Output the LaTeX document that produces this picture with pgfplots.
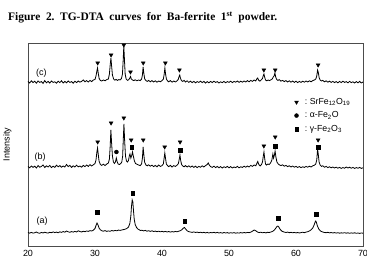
\documentclass[border=0pt]{standalone}
\usepackage{fontspec}
\setmainfont{Liberation Serif}
\setsansfont{Liberation Sans}
\usepackage{pgfplots}
\pgfplotsset{compat=1.18}
\begin{document}
\frenchspacing
\begin{tikzpicture}[x=1bp,y=1bp]
\useasboundingbox (0,0) rectangle (367,264);
\node[anchor=base west, inner sep=0pt, font=\fontsize{11.5}{13}\selectfont\bfseries] at (8,243.5) {\makebox[269bp][s]{Figure 2. TG-DTA curves for Ba-ferrite 1\textsuperscript{st} powder.}};
\begin{axis}[
  at={(28bp,18bp)}, anchor=south west,
  scale only axis, width=335bp, height=203bp,
  xmin=20, xmax=70, ymin=0, ymax=203,
  xtick={20,30,40,50,60,70}, ytick=\empty,
  major tick length=0pt,
  /pgf/number format/assume math mode=true,
  tick label style={font=\sffamily\fontsize{9}{10}\selectfont},
  xticklabel style={yshift=-1bp},
  ylabel={Intensity},
  ylabel style={at={(axis description cs:-0.062,0.5)}, anchor=center, font=\sffamily\fontsize{9}{10}\selectfont},
  axis line style={line width=0.9bp, black!70},
  clip=false,
  legend style={at={(rel axis cs:0.795,0.738)}, anchor=north west, draw=none, fill=none,
    font=\sffamily\fontsize{8.8}{10}\selectfont, row sep=1.8bp, inner sep=0pt, cells={anchor=west}},
]
% (a)
\addplot[black, line width=0.8bp, forget plot] coordinates {
(20.00,13.5)(20.25,12.8)(20.50,13.6)(20.75,12.9)(21.00,13.2)(21.25,14.0)(21.50,13.1)(21.75,12.7)(22.00,13.6)(22.25,13.0)(22.50,13.8)(22.75,13.2)(23.00,12.9)(23.25,13.7)(23.50,13.3)(23.75,14.1)(24.00,13.4)(24.25,13.9)(24.50,13.2)(24.75,14.2)(25.00,13.6)(25.25,14.5)(25.50,13.8)(25.75,15.0)(26.00,14.2)(26.25,13.7)(26.50,14.4)(26.75,13.9)(27.00,14.6)(27.25,14.0)(27.50,15.2)(27.75,14.5)(28.00,14.0)(28.25,14.8)(28.50,14.3)(28.75,15.0)(29.00,14.6)(29.25,15.4)(29.50,15.0)(29.75,15.8)(30.00,17.5)(30.15,20.5)(30.30,23.0)(30.45,21.0)(30.60,18.0)(30.80,16.2)(31.00,15.3)(31.25,14.8)(31.50,15.4)(31.75,14.6)(32.00,15.1)(32.25,14.7)(32.50,15.5)(32.75,15.0)(33.00,15.6)(33.25,15.2)(33.50,15.9)(33.75,15.6)(34.00,16.0)(34.25,16.4)(34.50,16.8)(34.75,17.5)(35.00,19.0)(35.20,22.5)(35.35,30.0)(35.45,40.0)(35.55,46.0)(35.65,44.0)(35.75,35.0)(35.85,27.0)(36.00,21.5)(36.20,18.5)(36.40,17.0)(36.60,16.2)(36.80,15.5)(37.00,15.8)(37.25,15.1)(37.50,15.6)(37.75,14.8)(38.00,15.3)(38.25,14.6)(38.50,15.2)(38.75,14.5)(39.00,14.9)(39.25,14.3)(39.50,14.8)(39.75,14.2)(40.00,14.7)(40.25,14.1)(40.50,14.6)(40.75,14.0)(41.00,14.5)(41.25,13.9)(41.50,14.4)(41.75,14.0)(42.00,14.6)(42.25,14.2)(42.50,14.8)(42.75,15.3)(43.00,16.5)(43.20,18.0)(43.35,18.5)(43.50,17.2)(43.75,15.2)(44.00,14.3)(44.25,14.0)(44.50,13.6)(44.75,14.1)(45.00,13.5)(45.25,13.9)(45.50,13.3)(45.75,13.8)(46.00,13.2)(46.25,13.7)(46.50,13.1)(46.75,13.6)(47.00,13.0)(47.25,13.5)(47.50,13.2)(47.75,13.7)(48.00,13.1)(48.25,13.6)(48.50,13.0)(48.75,13.4)(49.00,12.9)(49.25,13.5)(49.50,13.0)(49.75,13.4)(50.00,12.8)(50.25,13.3)(50.50,12.9)(50.75,13.4)(51.00,12.8)(51.25,13.2)(51.50,12.9)(51.75,13.4)(52.00,13.0)(52.25,13.5)(52.50,13.1)(52.75,13.6)(53.00,13.3)(53.25,13.9)(53.50,14.8)(53.75,16.0)(54.00,15.2)(54.25,14.0)(54.50,13.4)(54.75,13.8)(55.00,13.2)(55.25,13.6)(55.50,13.1)(55.75,13.7)(56.00,13.5)(56.25,14.0)(56.50,14.6)(56.75,15.8)(57.00,18.0)(57.15,19.5)(57.30,20.0)(57.45,18.8)(57.65,16.5)(57.90,14.8)(58.20,14.0)(58.50,13.5)(58.75,13.9)(59.00,13.3)(59.25,13.7)(59.50,13.2)(59.75,13.6)(60.00,13.1)(60.25,13.5)(60.50,13.0)(60.75,13.4)(61.00,13.8)(61.25,13.3)(61.50,13.9)(61.75,14.3)(62.00,15.0)(62.25,16.2)(62.50,18.0)(62.70,21.0)(62.85,24.0)(62.95,25.0)(63.05,23.5)(63.20,20.0)(63.40,17.0)(63.65,15.0)(63.90,14.2)(64.20,13.6)(64.50,13.3)(64.75,13.7)(65.00,13.1)(65.25,13.5)(65.50,13.0)(65.75,13.4)(66.00,12.9)(66.25,13.3)(66.50,12.8)(66.75,13.2)(67.00,12.9)(67.25,13.3)(67.50,12.8)(67.75,13.2)(68.00,12.7)(68.25,13.1)(68.50,12.8)(68.75,13.2)(69.00,12.7)(69.25,13.0)(69.50,12.6)(69.75,13.0)(70.00,12.8)
};
% (b)
\addplot[black, line width=0.8bp, forget plot] coordinates {
(20.00,79.5)(20.25,78.2)(20.50,80.0)(20.75,78.6)(21.00,79.8)(21.25,78.0)(21.50,80.4)(21.75,78.8)(22.00,79.6)(22.25,81.0)(22.50,78.5)(22.75,80.2)(23.00,79.0)(23.25,80.6)(23.50,78.4)(23.75,79.8)(24.00,78.6)(24.25,80.8)(24.50,79.2)(24.75,80.4)(25.00,78.8)(25.25,80.0)(25.50,79.0)(25.75,81.5)(26.00,79.4)(26.25,80.6)(26.50,78.6)(26.75,80.2)(27.00,79.0)(27.25,80.8)(27.50,79.2)(27.75,80.0)(28.00,78.8)(28.25,80.6)(28.50,79.4)(28.75,81.0)(29.00,79.6)(29.25,81.4)(29.50,80.0)(29.75,81.2)(30.00,82.5)(30.15,86.0)(30.28,94.0)(30.38,98.0)(30.48,92.0)(30.60,85.0)(30.80,81.5)(31.00,80.6)(31.25,81.8)(31.50,80.4)(31.75,82.0)(32.00,83.0)(32.15,87.0)(32.27,100.0)(32.37,116.0)(32.47,104.0)(32.60,90.0)(32.75,84.0)(32.90,82.5)(33.05,84.0)(33.18,88.0)(33.30,84.5)(33.45,82.0)(33.65,81.5)(33.85,82.5)(34.00,84.0)(34.13,90.0)(34.23,108.0)(34.32,122.0)(34.42,106.0)(34.55,90.0)(34.70,85.0)(34.85,84.0)(35.00,85.5)(35.12,90.0)(35.22,92.0)(35.35,88.0)(35.50,91.0)(35.60,94.0)(35.72,90.0)(35.88,85.0)(36.05,82.5)(36.25,81.8)(36.50,81.0)(36.75,80.4)(36.95,82.0)(37.08,88.0)(37.18,99.0)(37.28,92.0)(37.40,84.0)(37.60,81.0)(37.80,80.2)(38.00,81.2)(38.25,79.8)(38.50,80.8)(38.75,79.4)(39.00,80.6)(39.25,79.2)(39.50,81.0)(39.75,79.6)(40.00,80.4)(40.20,82.0)(40.32,88.0)(40.42,93.0)(40.52,88.0)(40.65,82.0)(40.85,80.2)(41.00,79.4)(41.25,80.6)(41.50,79.0)(41.75,80.4)(42.00,79.6)(42.25,80.8)(42.45,82.5)(42.58,87.0)(42.68,91.0)(42.78,86.0)(42.92,81.5)(43.10,80.0)(43.30,79.2)(43.50,80.4)(43.75,79.0)(44.00,80.2)(44.25,78.8)(44.50,80.0)(44.75,78.6)(45.00,79.8)(45.25,78.4)(45.50,79.6)(45.75,78.8)(46.00,80.2)(46.25,79.0)(46.50,80.4)(46.75,81.5)(46.90,83.0)(47.05,81.0)(47.25,79.4)(47.50,78.6)(47.75,79.8)(48.00,78.4)(48.25,79.6)(48.50,78.2)(48.75,79.4)(49.00,78.0)(49.25,79.2)(49.50,78.4)(49.75,79.6)(50.00,78.2)(50.25,79.4)(50.50,78.0)(50.75,79.0)(51.00,78.4)(51.25,79.6)(51.50,78.2)(51.75,79.2)(52.00,78.6)(52.25,79.8)(52.50,78.8)(52.75,80.0)(53.00,79.0)(53.25,80.6)(53.50,79.6)(53.75,81.0)(54.00,80.2)(54.15,82.5)(54.30,84.5)(54.45,81.5)(54.65,80.0)(54.85,81.5)(55.00,84.0)(55.12,90.0)(55.22,94.0)(55.32,88.0)(55.45,82.0)(55.60,81.0)(55.80,82.0)(56.00,81.5)(56.20,83.0)(56.40,86.0)(56.55,92.0)(56.65,88.0)(56.78,91.0)(56.88,95.0)(57.00,89.0)(57.15,84.0)(57.35,82.0)(57.55,81.0)(57.75,80.4)(58.00,81.2)(58.25,79.8)(58.50,80.6)(58.75,79.4)(59.00,80.2)(59.25,79.0)(59.50,80.0)(59.75,78.8)(60.00,79.6)(60.25,78.6)(60.50,79.4)(60.75,78.4)(61.00,79.2)(61.25,78.6)(61.50,79.6)(61.75,78.8)(62.00,79.8)(62.25,79.0)(62.50,80.2)(62.75,80.8)(62.95,82.0)(63.10,86.0)(63.22,97.0)(63.32,92.0)(63.45,84.0)(63.60,81.0)(63.80,79.6)(64.00,80.2)(64.25,78.8)(64.50,79.6)(64.75,78.4)(65.00,79.2)(65.25,78.2)(65.50,79.0)(65.75,78.0)(66.00,78.8)(66.25,77.8)(66.50,78.6)(66.75,77.6)(67.00,78.4)(67.25,77.8)(67.50,79.0)(67.75,78.0)(68.00,78.8)(68.25,77.8)(68.50,78.6)(68.75,77.6)(69.00,78.4)(69.25,77.8)(69.50,78.6)(69.75,77.6)(70.00,78.2)
};
% (c)
\addplot[black, line width=0.8bp, forget plot] coordinates {
(20.00,164.5)(20.25,163.0)(20.50,165.2)(20.75,163.4)(21.00,164.8)(21.25,162.8)(21.50,165.0)(21.75,163.6)(22.00,164.4)(22.25,162.6)(22.50,165.4)(22.75,163.2)(23.00,164.6)(23.25,163.0)(23.50,165.0)(23.75,163.6)(24.00,164.2)(24.25,162.8)(24.50,164.8)(24.75,163.4)(25.00,165.2)(25.25,163.0)(25.50,164.6)(25.75,163.2)(26.00,165.0)(26.25,163.6)(26.50,164.4)(26.75,162.8)(27.00,164.8)(27.25,163.4)(27.50,165.0)(27.75,163.8)(28.00,164.6)(28.25,166.0)(28.50,164.2)(28.75,165.4)(29.00,164.0)(29.25,165.6)(29.50,164.4)(29.75,166.0)(30.00,166.5)(30.15,170.0)(30.28,175.0)(30.38,178.0)(30.48,173.0)(30.62,167.5)(30.80,165.5)(31.00,165.0)(31.25,166.0)(31.50,165.2)(31.75,166.4)(32.00,167.0)(32.15,172.0)(32.28,182.0)(32.38,188.0)(32.48,180.0)(32.60,171.0)(32.78,167.0)(32.95,165.8)(33.15,166.6)(33.35,165.6)(33.55,166.4)(33.75,166.0)(33.95,167.5)(34.10,172.0)(34.20,185.0)(34.30,200.0)(34.40,186.0)(34.50,172.0)(34.65,167.0)(34.85,165.6)(35.05,166.4)(35.20,168.0)(35.30,169.5)(35.42,167.0)(35.60,166.0)(35.80,165.4)(36.00,166.2)(36.25,165.2)(36.50,166.0)(36.75,165.4)(36.95,166.8)(37.08,171.0)(37.18,179.0)(37.28,173.0)(37.42,167.0)(37.60,165.4)(37.80,164.6)(38.00,165.6)(38.25,164.2)(38.50,165.4)(38.75,164.0)(39.00,165.2)(39.25,163.8)(39.50,165.0)(39.75,164.2)(40.00,165.4)(40.20,166.8)(40.33,172.0)(40.43,178.0)(40.53,172.0)(40.67,166.6)(40.85,165.0)(41.00,164.2)(41.25,165.4)(41.50,163.8)(41.75,165.0)(42.00,164.0)(42.25,165.2)(42.42,166.5)(42.55,169.5)(42.65,171.0)(42.75,168.0)(42.90,165.4)(43.10,164.6)(43.30,165.6)(43.50,164.0)(43.75,165.2)(44.00,163.6)(44.25,164.8)(44.50,163.4)(44.75,164.6)(45.00,163.2)(45.25,164.4)(45.50,163.6)(45.75,164.8)(46.00,163.4)(46.25,164.6)(46.50,163.0)(46.75,164.4)(47.00,163.2)(47.25,164.6)(47.50,163.4)(47.75,164.8)(48.00,163.6)(48.25,164.4)(48.50,163.0)(48.75,164.2)(49.00,163.4)(49.25,164.6)(49.50,163.2)(49.75,164.4)(50.00,163.6)(50.25,164.8)(50.50,163.4)(50.75,164.6)(51.00,163.8)(51.25,165.0)(51.50,163.6)(51.75,164.8)(52.00,163.8)(52.25,165.0)(52.50,164.0)(52.75,165.4)(53.00,164.2)(53.25,165.6)(53.50,164.6)(53.75,166.0)(54.00,165.0)(54.15,167.0)(54.28,168.0)(54.42,165.8)(54.60,164.8)(54.80,166.0)(55.00,167.5)(55.12,170.5)(55.22,172.0)(55.32,169.0)(55.45,166.0)(55.65,165.2)(55.85,166.0)(56.05,165.4)(56.25,166.2)(56.45,167.0)(56.60,169.0)(56.72,170.0)(56.85,173.0)(56.97,169.0)(57.12,166.5)(57.30,165.6)(57.50,166.4)(57.75,164.8)(58.00,165.6)(58.25,164.4)(58.50,165.4)(58.75,164.0)(59.00,165.2)(59.25,163.8)(59.50,165.0)(59.75,163.6)(60.00,164.8)(60.25,163.4)(60.50,164.6)(60.75,163.6)(61.00,164.8)(61.25,163.8)(61.50,165.0)(61.75,164.0)(62.00,165.2)(62.25,164.2)(62.50,165.4)(62.75,166.0)(62.95,167.0)(63.10,170.0)(63.22,176.0)(63.32,174.0)(63.45,168.5)(63.60,166.0)(63.80,165.0)(64.00,165.6)(64.25,164.2)(64.50,165.2)(64.75,163.8)(65.00,164.8)(65.25,163.6)(65.50,164.6)(65.75,163.4)(66.00,164.4)(66.25,163.2)(66.50,164.6)(66.75,163.4)(67.00,164.8)(67.25,163.6)(67.50,164.4)(67.75,163.2)(68.00,164.6)(68.25,163.4)(68.50,164.2)(68.75,163.0)(69.00,164.4)(69.25,163.2)(69.50,164.6)(69.75,163.0)(70.00,164.0)
};
% markers
\addplot[only marks, mark=triangle*, mark size=2.2bp, mark options={rotate=180, fill=black, draw=black}] coordinates {
(30.4,183)(32.4,191)(34.3,201)(35.3,174)(37.2,183)(40.5,183)(42.6,176)(55.2,176)(56.9,176)(63.3,181)
(30.4,104)(32.4,123)(34.3,128)(35.4,106)(37.2,106)(40.4,99)(42.7,104)(55.2,100)(56.9,109)(63.3,106)
};
\addlegendentry{\enspace:\ SrFe\textsubscript{12}O\textsubscript{19}}
\addplot[only marks, mark=*, mark size=2bp, mark options={fill=black, draw=black}] coordinates {(33.2,94)};
\addlegendentry{\enspace:\ α-Fe\textsubscript{2}O}
\addplot[only marks, mark=square*, mark size=1.8bp, mark options={fill=black, draw=black}] coordinates {
(35.5,99)(42.7,96)(56.9,100)(63.3,99)
(30.3,34)(35.6,53)(43.4,25)(57.3,28)(63.0,32)
};
\addlegendentry{\enspace:\ γ-Fe\textsubscript{2}O\textsubscript{3}}
\node[font=\sffamily\fontsize{9}{10}\selectfont] at (axis cs:22.0,173) {(c)};
\node[font=\sffamily\fontsize{9}{10}\selectfont] at (axis cs:21.8,89) {(b)};
\node[font=\sffamily\fontsize{9}{10}\selectfont] at (axis cs:22.1,25) {(a)};
\end{axis}
\end{tikzpicture}
\end{document}
